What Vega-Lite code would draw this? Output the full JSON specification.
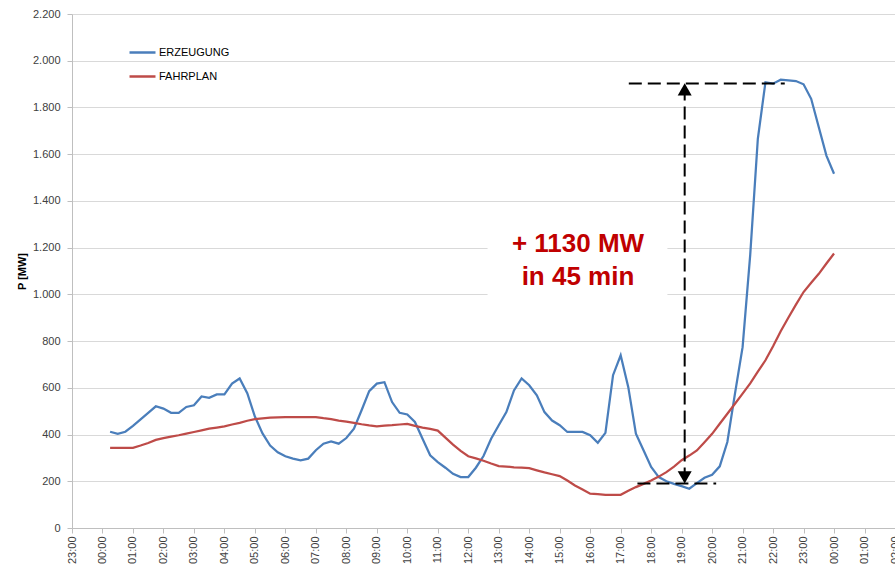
{
  "$schema": "https://vega.github.io/schema/vega-lite/v6.json",
  "width": 823,
  "height": 514,
  "autosize": {"type": "none"},
  "padding": {"left": 72, "top": 14, "right": 0, "bottom": 40},
  "background": "white",
  "config": {
    "view": {"stroke": null},
    "font": "Liberation Sans",
    "locale": {"number": {"decimal": ",", "thousands": ".", "grouping": [3], "currency": ["", " €"]}}
  },
  "datasets": {
    "power": [
      {"t":"2019-01-10T00:15","ERZEUGUNG":412,"FAHRPLAN":343},
      {"t":"2019-01-10T00:30","ERZEUGUNG":403,"FAHRPLAN":343},
      {"t":"2019-01-10T00:45","ERZEUGUNG":412,"FAHRPLAN":343},
      {"t":"2019-01-10T01:00","ERZEUGUNG":437,"FAHRPLAN":343},
      {"t":"2019-01-10T01:15","ERZEUGUNG":465,"FAHRPLAN":353},
      {"t":"2019-01-10T01:30","ERZEUGUNG":493,"FAHRPLAN":364},
      {"t":"2019-01-10T01:45","ERZEUGUNG":521,"FAHRPLAN":377},
      {"t":"2019-01-10T02:00","ERZEUGUNG":511,"FAHRPLAN":385},
      {"t":"2019-01-10T02:15","ERZEUGUNG":493,"FAHRPLAN":391},
      {"t":"2019-01-10T02:30","ERZEUGUNG":493,"FAHRPLAN":397},
      {"t":"2019-01-10T02:45","ERZEUGUNG":518,"FAHRPLAN":404},
      {"t":"2019-01-10T03:00","ERZEUGUNG":525,"FAHRPLAN":411},
      {"t":"2019-01-10T03:15","ERZEUGUNG":563,"FAHRPLAN":418},
      {"t":"2019-01-10T03:30","ERZEUGUNG":557,"FAHRPLAN":425},
      {"t":"2019-01-10T03:45","ERZEUGUNG":572,"FAHRPLAN":430},
      {"t":"2019-01-10T04:00","ERZEUGUNG":572,"FAHRPLAN":435},
      {"t":"2019-01-10T04:15","ERZEUGUNG":618,"FAHRPLAN":443},
      {"t":"2019-01-10T04:30","ERZEUGUNG":640,"FAHRPLAN":450},
      {"t":"2019-01-10T04:45","ERZEUGUNG":577,"FAHRPLAN":459},
      {"t":"2019-01-10T05:00","ERZEUGUNG":477,"FAHRPLAN":466},
      {"t":"2019-01-10T05:15","ERZEUGUNG":405,"FAHRPLAN":469},
      {"t":"2019-01-10T05:30","ERZEUGUNG":353,"FAHRPLAN":472},
      {"t":"2019-01-10T05:45","ERZEUGUNG":324,"FAHRPLAN":474},
      {"t":"2019-01-10T06:00","ERZEUGUNG":307,"FAHRPLAN":475},
      {"t":"2019-01-10T06:15","ERZEUGUNG":297,"FAHRPLAN":475},
      {"t":"2019-01-10T06:30","ERZEUGUNG":290,"FAHRPLAN":475},
      {"t":"2019-01-10T06:45","ERZEUGUNG":297,"FAHRPLAN":475},
      {"t":"2019-01-10T07:00","ERZEUGUNG":333,"FAHRPLAN":475},
      {"t":"2019-01-10T07:15","ERZEUGUNG":361,"FAHRPLAN":470},
      {"t":"2019-01-10T07:30","ERZEUGUNG":371,"FAHRPLAN":466},
      {"t":"2019-01-10T07:45","ERZEUGUNG":361,"FAHRPLAN":460},
      {"t":"2019-01-10T08:00","ERZEUGUNG":385,"FAHRPLAN":455},
      {"t":"2019-01-10T08:15","ERZEUGUNG":425,"FAHRPLAN":450},
      {"t":"2019-01-10T08:30","ERZEUGUNG":504,"FAHRPLAN":444},
      {"t":"2019-01-10T08:45","ERZEUGUNG":586,"FAHRPLAN":439},
      {"t":"2019-01-10T09:00","ERZEUGUNG":618,"FAHRPLAN":435},
      {"t":"2019-01-10T09:15","ERZEUGUNG":624,"FAHRPLAN":438},
      {"t":"2019-01-10T09:30","ERZEUGUNG":539,"FAHRPLAN":440},
      {"t":"2019-01-10T09:45","ERZEUGUNG":493,"FAHRPLAN":443},
      {"t":"2019-01-10T10:00","ERZEUGUNG":486,"FAHRPLAN":446},
      {"t":"2019-01-10T10:15","ERZEUGUNG":454,"FAHRPLAN":437},
      {"t":"2019-01-10T10:30","ERZEUGUNG":382,"FAHRPLAN":430},
      {"t":"2019-01-10T10:45","ERZEUGUNG":311,"FAHRPLAN":424},
      {"t":"2019-01-10T11:00","ERZEUGUNG":282,"FAHRPLAN":417},
      {"t":"2019-01-10T11:15","ERZEUGUNG":258,"FAHRPLAN":387},
      {"t":"2019-01-10T11:30","ERZEUGUNG":232,"FAHRPLAN":357},
      {"t":"2019-01-10T11:45","ERZEUGUNG":218,"FAHRPLAN":330},
      {"t":"2019-01-10T12:00","ERZEUGUNG":218,"FAHRPLAN":307},
      {"t":"2019-01-10T12:15","ERZEUGUNG":258,"FAHRPLAN":298},
      {"t":"2019-01-10T12:30","ERZEUGUNG":308,"FAHRPLAN":288},
      {"t":"2019-01-10T12:45","ERZEUGUNG":382,"FAHRPLAN":276},
      {"t":"2019-01-10T13:00","ERZEUGUNG":440,"FAHRPLAN":265},
      {"t":"2019-01-10T13:15","ERZEUGUNG":496,"FAHRPLAN":263},
      {"t":"2019-01-10T13:30","ERZEUGUNG":589,"FAHRPLAN":260},
      {"t":"2019-01-10T13:45","ERZEUGUNG":640,"FAHRPLAN":258},
      {"t":"2019-01-10T14:00","ERZEUGUNG":611,"FAHRPLAN":256},
      {"t":"2019-01-10T14:15","ERZEUGUNG":568,"FAHRPLAN":247},
      {"t":"2019-01-10T14:30","ERZEUGUNG":496,"FAHRPLAN":238},
      {"t":"2019-01-10T14:45","ERZEUGUNG":460,"FAHRPLAN":230},
      {"t":"2019-01-10T15:00","ERZEUGUNG":440,"FAHRPLAN":222},
      {"t":"2019-01-10T15:15","ERZEUGUNG":411,"FAHRPLAN":203},
      {"t":"2019-01-10T15:30","ERZEUGUNG":411,"FAHRPLAN":182},
      {"t":"2019-01-10T15:45","ERZEUGUNG":411,"FAHRPLAN":165},
      {"t":"2019-01-10T16:00","ERZEUGUNG":397,"FAHRPLAN":147},
      {"t":"2019-01-10T16:15","ERZEUGUNG":365,"FAHRPLAN":145},
      {"t":"2019-01-10T16:30","ERZEUGUNG":407,"FAHRPLAN":142},
      {"t":"2019-01-10T16:45","ERZEUGUNG":654,"FAHRPLAN":142},
      {"t":"2019-01-10T17:00","ERZEUGUNG":739,"FAHRPLAN":142},
      {"t":"2019-01-10T17:15","ERZEUGUNG":603,"FAHRPLAN":159},
      {"t":"2019-01-10T17:30","ERZEUGUNG":404,"FAHRPLAN":175},
      {"t":"2019-01-10T17:45","ERZEUGUNG":333,"FAHRPLAN":189},
      {"t":"2019-01-10T18:00","ERZEUGUNG":261,"FAHRPLAN":203},
      {"t":"2019-01-10T18:15","ERZEUGUNG":218,"FAHRPLAN":220},
      {"t":"2019-01-10T18:30","ERZEUGUNG":200,"FAHRPLAN":239},
      {"t":"2019-01-10T18:45","ERZEUGUNG":189,"FAHRPLAN":263},
      {"t":"2019-01-10T19:00","ERZEUGUNG":179,"FAHRPLAN":290},
      {"t":"2019-01-10T19:15","ERZEUGUNG":168,"FAHRPLAN":310},
      {"t":"2019-01-10T19:30","ERZEUGUNG":192,"FAHRPLAN":332},
      {"t":"2019-01-10T19:45","ERZEUGUNG":215,"FAHRPLAN":367},
      {"t":"2019-01-10T20:00","ERZEUGUNG":228,"FAHRPLAN":403},
      {"t":"2019-01-10T20:15","ERZEUGUNG":264,"FAHRPLAN":446},
      {"t":"2019-01-10T20:30","ERZEUGUNG":368,"FAHRPLAN":489},
      {"t":"2019-01-10T20:45","ERZEUGUNG":575,"FAHRPLAN":532},
      {"t":"2019-01-10T21:00","ERZEUGUNG":774,"FAHRPLAN":575},
      {"t":"2019-01-10T21:15","ERZEUGUNG":1169,"FAHRPLAN":619},
      {"t":"2019-01-10T21:30","ERZEUGUNG":1666,"FAHRPLAN":669},
      {"t":"2019-01-10T21:45","ERZEUGUNG":1908,"FAHRPLAN":718},
      {"t":"2019-01-10T22:00","ERZEUGUNG":1902,"FAHRPLAN":778},
      {"t":"2019-01-10T22:15","ERZEUGUNG":1919,"FAHRPLAN":842},
      {"t":"2019-01-10T22:30","ERZEUGUNG":1916,"FAHRPLAN":900},
      {"t":"2019-01-10T22:45","ERZEUGUNG":1913,"FAHRPLAN":956},
      {"t":"2019-01-10T23:00","ERZEUGUNG":1899,"FAHRPLAN":1010},
      {"t":"2019-01-10T23:15","ERZEUGUNG":1837,"FAHRPLAN":1050},
      {"t":"2019-01-10T23:30","ERZEUGUNG":1715,"FAHRPLAN":1088},
      {"t":"2019-01-10T23:45","ERZEUGUNG":1594,"FAHRPLAN":1132},
      {"t":"2019-01-11T00:00","ERZEUGUNG":1516,"FAHRPLAN":1175}
    ],
    "whitebox": [
      {"t":"2019-01-10T12:38","t2":"2019-01-10T18:32","p":1330,"p2":930}
    ],
    "guidelines": [
      {"t":"2019-01-10T17:16","t2":"2019-01-10T22:23","p":1903,"p2":1903},
      {"t":"2019-01-10T17:33","t2":"2019-01-10T20:08","p":191,"p2":191},
      {"t":"2019-01-10T19:06","t2":"2019-01-10T19:06","p":1885,"p2":210}
    ],
    "arrowup": [
      {"t":"2019-01-10T19:06","p":1903}
    ],
    "arrowdown": [
      {"t":"2019-01-10T19:06","p":191}
    ],
    "notetext": [
      {"t":"2019-01-10T15:36","p":1181,"label":"+ 1130 MW"},
      {"t":"2019-01-10T15:36","p":1038,"label":"in 45 min"}
    ]
  },
  "encoding": {
    "x": {
      "field": "t",
      "type": "temporal",
      "scale": {
        "domain": [
          {"year": 2019, "month": 1, "date": 9, "hours": 23},
          {"year": 2019, "month": 1, "date": 11, "hours": 2}
        ]
      },
      "axis": {
        "title": null,
        "format": "%H:%M",
        "tickCount": 27,
        "labelAngle": -90,
        "labelFontSize": 11,
        "labelColor": "#404040",
        "labelOverlap": false,
        "labelFlush": false,
        "grid": false,
        "domainColor": "#bfbfbf",
        "tickColor": "#bfbfbf",
        "tickSize": 5,
        "labelPadding": 3
      }
    },
    "y": {
      "field": "p",
      "type": "quantitative",
      "scale": {"domain": [0, 2200], "nice": false},
      "axis": {
        "title": "P [MW]",
        "titleFontSize": 11,
        "titleFontWeight": "bold",
        "titleColor": "#000000",
        "values": [0, 200, 400, 600, 800, 1000, 1200, 1400, 1600, 1800, 2000, 2200],
        "format": ",d",
        "labelFontSize": 11,
        "labelColor": "#404040",
        "gridColor": "#d9d9d9",
        "domainColor": "#bfbfbf",
        "tickColor": "#bfbfbf",
        "tickSize": 5,
        "labelPadding": 7,
        "titlePadding": 5
      }
    }
  },
  "layer": [
    {
      "data": {"name": "whitebox"},
      "mark": {"type": "rect", "fill": "white"},
      "encoding": {"x2": {"field": "t2"}, "y2": {"field": "p2"}}
    },
    {
      "data": {"name": "power"},
      "transform": [{"fold": ["ERZEUGUNG", "FAHRPLAN"], "as": ["serie", "p"]}],
      "mark": {"type": "line", "strokeWidth": 2.25},
      "encoding": {
        "color": {
          "field": "serie",
          "type": "nominal",
          "scale": {"domain": ["ERZEUGUNG", "FAHRPLAN"], "range": ["#4A7EBB", "#BE4B48"]},
          "legend": {
            "orient": "none",
            "legendX": 56,
            "legendY": 24,
            "title": null,
            "symbolType": "stroke",
            "symbolSize": 676,
            "symbolStrokeWidth": 2.5,
            "labelFontSize": 11,
            "labelColor": "#000000",
            "labelOffset": 2,
            "rowPadding": 4
          }
        }
      }
    },
    {
      "data": {"name": "guidelines"},
      "mark": {"type": "rule", "color": "black", "strokeWidth": 2, "strokeDash": [13, 6]},
      "encoding": {"x2": {"field": "t2"}, "y2": {"field": "p2"}}
    },
    {
      "data": {"name": "arrowup"},
      "mark": {"type": "point", "filled": true, "color": "black", "size": 196, "opacity": 1, "shape": "triangle-up", "yOffset": 6},
      "encoding": {}
    },
    {
      "data": {"name": "arrowdown"},
      "mark": {"type": "point", "filled": true, "color": "black", "size": 196, "opacity": 1, "shape": "triangle-down", "yOffset": -6},
      "encoding": {}
    },
    {
      "data": {"name": "notetext"},
      "mark": {"type": "text", "fontSize": 26, "fontWeight": "bold", "color": "#C00000", "align": "center", "baseline": "alphabetic"},
      "encoding": {"text": {"field": "label"}}
    }
  ]
}
